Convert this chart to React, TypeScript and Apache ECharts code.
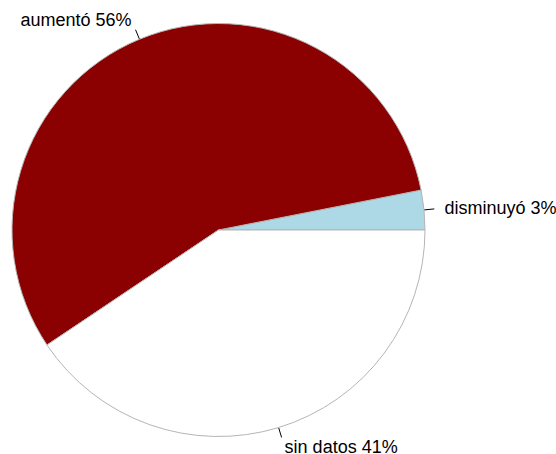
import React, { useEffect, useRef } from "react";
import * as echarts from "echarts";

const categories = ["disminuyó", "aumentó", "sin datos"];
const values = [3.1, 56.3, 40.6];
const colors = ["#ADD8E6", "#8B0000", "#FFFFFF"];

export default function App() {
  const ref = useRef<HTMLDivElement>(null);
  useEffect(() => {
    if (!ref.current) return;
    const chart = echarts.init(ref.current, undefined, { renderer: "svg" });
    const cx = 218.5;
    const cy = 230;
    const R = 206.5;
    const total = values.reduce((a, b) => a + b, 0);
    const midAngle = (i: number) => {
      let cum = 0;
      for (let j = 0; j < i; j++) cum += values[j];
      return ((cum + values[i] / 2) / total) * Math.PI * 2;
    };
    chart.setOption({
      animation: false,
      backgroundColor: "#ffffff",
      series: [
        {
          type: "pie",
          center: [cx, cy],
          radius: [0, R],
          startAngle: 0,
          clockwise: false,
          avoidLabelOverlap: false,
          data: categories.map((name, i) => ({
            name,
            value: values[i],
            itemStyle: { color: colors[i] },
          })),
          itemStyle: { borderColor: "#b5b5b5", borderWidth: 1 },
          label: {
            show: true,
            position: "outside",
            color: "#000000",
            fontFamily: "Liberation Sans, Arial, sans-serif",
            fontSize: 18,
            formatter: (p: any) => `${p.name} ${Math.round(p.percent)}%`,
          },
          labelLine: {
            show: true,
            length: 10,
            length2: 0,
            lineStyle: { color: "#000000", width: 1 },
          },
          labelLayout: (p: any) => {
            const a = midAngle(p.dataIndex);
            const c = Math.cos(a);
            const s = -Math.sin(a);
            return {
              x: cx + 1.1 * R * c,
              y: cy + 1.1 * R * s,
              align: c < 0 ? "right" : "left",
              verticalAlign: "middle",
              labelLinePoints: [
                [cx + R * c, cy + R * s],
                [cx + 1.05 * R * c, cy + 1.05 * R * s],
                [cx + 1.05 * R * c, cy + 1.05 * R * s],
              ],
            };
          },
          emphasis: { disabled: true },
        },
      ],
    });
    return () => chart.dispose();
  }, []);
  return (
    <div
      ref={ref}
      style={{ position: "absolute", left: 0, top: 0, width: 556, height: 454 }}
    />
  );
}
